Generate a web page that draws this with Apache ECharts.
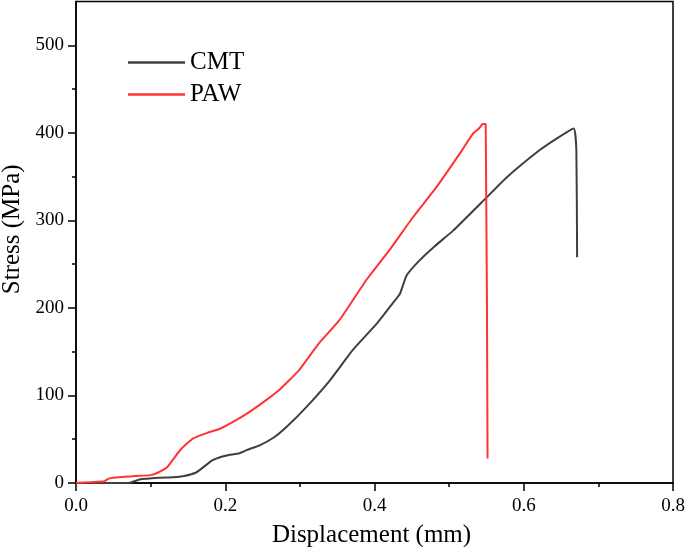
<!DOCTYPE html>
<html>
<head>
<meta charset="utf-8">
<script src="https://cdn.jsdelivr.net/npm/echarts@6/dist/echarts.min.js"></script>
<style>html,body{margin:0;padding:0;background:#fff}#c{width:685px;height:547px}</style>
</head>
<body>
<div id="c"></div>
<script>
var seriesNames = ['CMT', 'PAW'];
var cmtX = [0, 0.06, 0.071, 0.085, 0.111, 0.13, 0.145, 0.161, 0.172, 0.183, 0.195, 0.205, 0.219, 0.23, 0.246, 0.265, 0.282, 0.309, 0.34, 0.371, 0.403, 0.425, 0.434, 0.443, 0.46, 0.48, 0.505, 0.55, 0.577, 0.621, 0.645, 0.667, 0.6705, 0.6715];
var cmtY = [0, 0, 0, 4, 6, 6.5, 8, 12, 19, 26, 30, 32, 34, 38, 43, 52, 64, 87, 117, 152, 182, 206, 216, 237, 254, 270, 288, 326, 349, 380, 394, 405, 380, 258];
var pawX = [0, 0.02, 0.038, 0.044, 0.05, 0.065, 0.08, 0.1, 0.11, 0.122, 0.14, 0.157, 0.175, 0.193, 0.211, 0.232, 0.252, 0.272, 0.299, 0.326, 0.353, 0.39, 0.42, 0.451, 0.483, 0.514, 0.532, 0.54, 0.545, 0.549, 0.5515];
var pawY = [0, 1, 2, 5, 6, 7, 8, 9, 12, 18, 38, 51, 57, 62, 70, 81, 93, 106, 129, 160, 186, 233, 266, 303, 338, 376, 399, 405, 410, 410, 28];
var xMajorTicks = [0, 0.2, 0.4, 0.6, 0.8];
var xMinorTicks = [0.1, 0.3, 0.5, 0.7];
var yMajorTicks = [0, 100, 200, 300, 400, 500];
var yMinorTicks = [50, 150, 250, 350, 450];

function pairs(xs, ys) { return xs.map(function (x, i) { return [x, ys[i]]; }); }
var font = 'Liberation Serif';
var chart = echarts.init(document.getElementById('c'), null, {renderer: 'canvas'});
var axLine = {show: true, lineStyle: {color: '#000', width: 1.5}};
chart.setOption({
  animation: false,
  backgroundColor: '#fff',
  grid: {left: 76, right: 12, top: 1.5, bottom: 64, show: true, borderColor: '#000', borderWidth: 1.5,
    containLabel: false, outerBoundsMode: 'none'},
  legend: {
    orient: 'vertical', left: 128, top: 50, padding: 0, itemWidth: 57, itemHeight: 2.5, itemGap: 7, icon: 'rect',
    textStyle: {fontFamily: font, fontSize: 25, color: '#000', lineHeight: 24},
    data: seriesNames
  },
  xAxis: [{
    type: 'value', min: 0, max: 0.8, position: 'bottom',
    name: 'Displacement (mm)', nameLocation: 'middle', nameGap: 40,
    nameTextStyle: {fontFamily: font, fontSize: 25, color: '#000', padding: [0, 6, 0, 0]},
    axisLine: axLine,
    axisTick: {show: true, inside: false, length: 8, lineStyle: {color: '#000', width: 1.5}, customValues: xMajorTicks},
    axisLabel: {fontFamily: font, fontSize: 19, color: '#000', margin: 14, customValues: xMajorTicks,
      formatter: function (v) { return v.toFixed(1); }},
    splitLine: {show: false}
  }, {
    type: 'value', min: 0, max: 0.8, position: 'bottom', offset: 0,
    axisLine: {show: false},
    axisTick: {show: true, inside: false, length: 4, lineStyle: {color: '#000', width: 1.5}, customValues: xMinorTicks},
    axisLabel: {show: false},
    splitLine: {show: false}
  }],
  yAxis: [{
    type: 'value', min: 0, max: 550, position: 'left',
    name: 'Stress (MPa)', nameLocation: 'middle', nameGap: 51,
    nameTextStyle: {fontFamily: font, fontSize: 25, color: '#000', padding: [0, 0, 0, 26]},
    axisLine: axLine,
    axisTick: {show: true, inside: false, length: 8, lineStyle: {color: '#000', width: 1.5}, customValues: yMajorTicks},
    axisLabel: {fontFamily: font, fontSize: 19, color: '#000', margin: 12, customValues: yMajorTicks},
    splitLine: {show: false}
  }, {
    type: 'value', min: 0, max: 550, position: 'left', offset: 0,
    axisLine: {show: false},
    axisTick: {show: true, inside: false, length: 4, lineStyle: {color: '#000', width: 1.5}, customValues: yMinorTicks},
    axisLabel: {show: false},
    splitLine: {show: false}
  }],
  series: [{
    name: seriesNames[0], type: 'line', xAxisIndex: 0, yAxisIndex: 0,
    data: pairs(cmtX, cmtY), symbol: 'none', smooth: 0.15,
    lineStyle: {color: '#3f3f3f', width: 2}, itemStyle: {color: '#3f3f3f'}
  }, {
    name: seriesNames[1], type: 'line', xAxisIndex: 0, yAxisIndex: 0,
    data: pairs(pawX, pawY), symbol: 'none', smooth: 0.15,
    lineStyle: {color: '#ff3333', width: 2}, itemStyle: {color: '#ff3333'}
  }]
});
</script>
</body>
</html>
